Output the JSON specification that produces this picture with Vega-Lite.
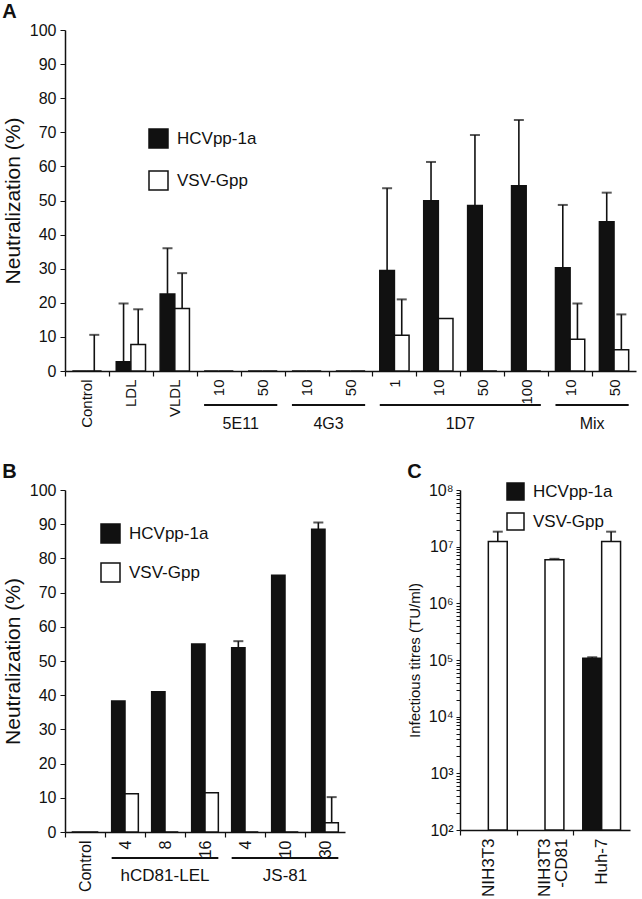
{
  "$schema": "https://vega.github.io/schema/vega-lite/v6.json",
  "background": "white",
  "padding": 2,
  "config": {
    "font": "Liberation Sans",
    "view": {"stroke": null},
    "axis": {"grid": false, "domainColor": "#111", "domainWidth": 1.5, "tickColor": "#111", "labelColor": "#111", "titleColor": "#111", "titleFontWeight": "normal"}
  },
  "datasets": {
    "a": [
      {"cat": "Control", "virus": "HCVpp-1a", "slot": "Control#H", "value": 0, "err": null},
      {"cat": "Control", "virus": "VSV-Gpp", "slot": "Control#V", "value": 0, "err": 10.6},
      {"cat": "LDL", "virus": "HCVpp-1a", "slot": "LDL#H", "value": 2.7, "err": 19.8},
      {"cat": "LDL", "virus": "VSV-Gpp", "slot": "LDL#V", "value": 7.8, "err": 18.1},
      {"cat": "VLDL", "virus": "HCVpp-1a", "slot": "VLDL#H", "value": 22.6, "err": 36},
      {"cat": "VLDL", "virus": "VSV-Gpp", "slot": "VLDL#V", "value": 18.3, "err": 28.7},
      {"cat": "5E11|10", "virus": "HCVpp-1a", "slot": "5E11|10#H", "value": 0, "err": null},
      {"cat": "5E11|10", "virus": "VSV-Gpp", "slot": "5E11|10#V", "value": 0, "err": null},
      {"cat": "5E11|50", "virus": "HCVpp-1a", "slot": "5E11|50#H", "value": 0, "err": null},
      {"cat": "5E11|50", "virus": "VSV-Gpp", "slot": "5E11|50#V", "value": 0, "err": null},
      {"cat": "4G3|10", "virus": "HCVpp-1a", "slot": "4G3|10#H", "value": 0, "err": null},
      {"cat": "4G3|10", "virus": "VSV-Gpp", "slot": "4G3|10#V", "value": 0, "err": null},
      {"cat": "4G3|50", "virus": "HCVpp-1a", "slot": "4G3|50#H", "value": 0, "err": null},
      {"cat": "4G3|50", "virus": "VSV-Gpp", "slot": "4G3|50#V", "value": 0, "err": null},
      {"cat": "1D7|1", "virus": "HCVpp-1a", "slot": "1D7|1#H", "value": 29.5, "err": 53.6},
      {"cat": "1D7|1", "virus": "VSV-Gpp", "slot": "1D7|1#V", "value": 10.5, "err": 21},
      {"cat": "1D7|10", "virus": "HCVpp-1a", "slot": "1D7|10#H", "value": 49.9, "err": 61.3},
      {"cat": "1D7|10", "virus": "VSV-Gpp", "slot": "1D7|10#V", "value": 15.4, "err": null},
      {"cat": "1D7|50", "virus": "HCVpp-1a", "slot": "1D7|50#H", "value": 48.5, "err": 69.2},
      {"cat": "1D7|50", "virus": "VSV-Gpp", "slot": "1D7|50#V", "value": 0, "err": null},
      {"cat": "1D7|100", "virus": "HCVpp-1a", "slot": "1D7|100#H", "value": 54.3, "err": 73.6},
      {"cat": "1D7|100", "virus": "VSV-Gpp", "slot": "1D7|100#V", "value": 0, "err": null},
      {"cat": "Mix|10", "virus": "HCVpp-1a", "slot": "Mix|10#H", "value": 30.3, "err": 48.7},
      {"cat": "Mix|10", "virus": "VSV-Gpp", "slot": "Mix|10#V", "value": 9.3, "err": 19.8},
      {"cat": "Mix|50", "virus": "HCVpp-1a", "slot": "Mix|50#H", "value": 43.8, "err": 52.3},
      {"cat": "Mix|50", "virus": "VSV-Gpp", "slot": "Mix|50#V", "value": 6.2, "err": 16.6}
    ],
    "aGroups": [
      {"grp": "5E11", "first": "5E11|10#H", "last": "5E11|50#V", "mid": "5E11|10#G"},
      {"grp": "4G3", "first": "4G3|10#H", "last": "4G3|50#V", "mid": "4G3|10#G"},
      {"grp": "1D7", "first": "1D7|1#H", "last": "1D7|100#V", "mid": "1D7|10#G"},
      {"grp": "Mix", "first": "Mix|10#H", "last": "Mix|50#V", "mid": "Mix|10#G"}
    ],
    "b": [
      {"cat": "Control", "virus": "HCVpp-1a", "slot": "Control#H", "value": 0, "err": null},
      {"cat": "Control", "virus": "VSV-Gpp", "slot": "Control#V", "value": 0, "err": null},
      {"cat": "hCD81-LEL|4", "virus": "HCVpp-1a", "slot": "hCD81-LEL|4#H", "value": 38.3, "err": null},
      {"cat": "hCD81-LEL|4", "virus": "VSV-Gpp", "slot": "hCD81-LEL|4#V", "value": 11.2, "err": null},
      {"cat": "hCD81-LEL|8", "virus": "HCVpp-1a", "slot": "hCD81-LEL|8#H", "value": 41.0, "err": null},
      {"cat": "hCD81-LEL|8", "virus": "VSV-Gpp", "slot": "hCD81-LEL|8#V", "value": 0, "err": null},
      {"cat": "hCD81-LEL|16", "virus": "HCVpp-1a", "slot": "hCD81-LEL|16#H", "value": 55.0, "err": null},
      {"cat": "hCD81-LEL|16", "virus": "VSV-Gpp", "slot": "hCD81-LEL|16#V", "value": 11.5, "err": null},
      {"cat": "JS-81|4", "virus": "HCVpp-1a", "slot": "JS-81|4#H", "value": 53.9, "err": 55.8},
      {"cat": "JS-81|4", "virus": "VSV-Gpp", "slot": "JS-81|4#V", "value": 0, "err": null},
      {"cat": "JS-81|10", "virus": "HCVpp-1a", "slot": "JS-81|10#H", "value": 75.1, "err": null},
      {"cat": "JS-81|10", "virus": "VSV-Gpp", "slot": "JS-81|10#V", "value": 0, "err": null},
      {"cat": "JS-81|30", "virus": "HCVpp-1a", "slot": "JS-81|30#H", "value": 88.5, "err": 90.5},
      {"cat": "JS-81|30", "virus": "VSV-Gpp", "slot": "JS-81|30#V", "value": 2.7, "err": 10.2}
    ],
    "bGroups": [
      {"grp": "hCD81-LEL", "first": "hCD81-LEL|4#H", "last": "hCD81-LEL|16#V", "mid": "hCD81-LEL|8#H"},
      {"grp": "JS-81", "first": "JS-81|4#H", "last": "JS-81|30#V", "mid": "JS-81|10#H"}
    ],
    "c": [
      {"cat": "NIH3T3", "virus": "VSV-Gpp", "slot": "NIH3T3#V", "value": 12300000, "err": 18400000},
      {"cat": "NIH3T3-CD81", "virus": "VSV-Gpp", "slot": "NIH3T3-CD81#V", "value": 5900000, "err": 6100000},
      {"cat": "Huh-7", "virus": "HCVpp-1a", "slot": "Huh-7#H", "value": 107000, "err": 112000},
      {"cat": "Huh-7", "virus": "VSV-Gpp", "slot": "Huh-7#V", "value": 12300000, "err": 18400000}
    ]
  },
  "spacing": 30,
  "resolve": {"scale": {"color": "independent"}, "legend": {"color": "independent"}},
  "vconcat": [
    {
      "title": {"text": "A", "anchor": "start", "fontSize": 20, "fontWeight": "bold", "color": "#111", "offset": 0},
      "width": 571,
      "height": 341,
      "layer": [
        {
          "data": {"name": "a"},
          "mark": {"type": "bar", "stroke": "#111", "strokeWidth": 1.5},
          "encoding": {
            "x": {"field": "slot", "type": "nominal",
              "scale": {"domain": ["Control#H","Control#V","Control#G","LDL#H","LDL#V","LDL#G","VLDL#H","VLDL#V","VLDL#G","5E11|10#H","5E11|10#V","5E11|10#G","5E11|50#H","5E11|50#V","5E11|50#G","4G3|10#H","4G3|10#V","4G3|10#G","4G3|50#H","4G3|50#V","4G3|50#G","1D7|1#H","1D7|1#V","1D7|1#G","1D7|10#H","1D7|10#V","1D7|10#G","1D7|50#H","1D7|50#V","1D7|50#G","1D7|100#H","1D7|100#V","1D7|100#G","Mix|10#H","Mix|10#V","Mix|10#G","Mix|50#H","Mix|50#V"], "paddingInner": 0, "paddingOuter": 0.5},
              "axis": {"title": null, "values": ["Control#H","LDL#H","VLDL#H","5E11|10#H","5E11|50#H","4G3|10#H","4G3|50#H","1D7|1#H","1D7|10#H","1D7|50#H","1D7|100#H","Mix|10#H","Mix|50#H"],
                "labelAngle": -90, "tickSize": 5, "tickWidth": 1.2, "tickOffset": -14.64, "labelOffset": 21.96, "labelPadding": 3, "labelFontSize": 15,
                "labelExpr": "indexof(datum.value, '|') >= 0 ? split(split(datum.value, '#')[0], '|')[1] : split(datum.value, '#')[0]"}},
            "y": {"field": "value", "type": "quantitative", "stack": null, "scale": {"domain": [0, 100]},
              "axis": {"title": "Neutralization (%)", "titleFontSize": 21, "titlePadding": 6, "labelFontSize": 16, "tickSize": 5, "labelPadding": 4}},
            "color": {"field": "virus", "type": "nominal", "scale": {"domain": ["HCVpp-1a","VSV-Gpp"], "range": ["#111111","#ffffff"]},
              "legend": {"orient": "none", "title": null, "legendX": 83, "legendY": 98, "symbolType": "square", "symbolSize": 361, "symbolStrokeColor": "#111", "symbolStrokeWidth": 1.5, "labelFontSize": 17, "labelColor": "#111", "rowPadding": 17, "labelOffset": 8, "padding": 0}}
          }
        },
        {
          "data": {"name": "a"},
          "transform": [{"filter": "isValid(datum.err)"}],
          "mark": {"type": "rule", "strokeWidth": 1.6, "color": "#111"},
          "encoding": {
            "x": {"field": "slot", "type": "nominal"},
            "y": {"field": "value", "type": "quantitative"},
            "y2": {"field": "err"}
          }
        },
        {
          "data": {"name": "a"},
          "transform": [{"filter": "isValid(datum.err)"}],
          "mark": {"type": "tick", "thickness": 2, "size": 10, "color": "#111"},
          "encoding": {
            "x": {"field": "slot", "type": "nominal"},
            "y": {"field": "err", "type": "quantitative"}
          }
        },
        {
          "data": {"name": "aGroups"},
          "mark": {"type": "rule", "strokeWidth": 2, "color": "#111"},
          "encoding": {
            "x": {"field": "first", "type": "nominal", "bandPosition": 0},
            "x2": {"field": "last", "bandPosition": 1},
            "y": {"datum": -10}
          }
        },
        {
          "data": {"name": "aGroups"},
          "mark": {"type": "text", "fontSize": 16, "baseline": "middle", "color": "#111"},
          "encoding": {
            "x": {"field": "mid", "type": "nominal"},
            "y": {"datum": -15.5},
            "text": {"field": "grp"}
          }
        }
      ]
    },
    {
      "spacing": 62,
      "resolve": {"scale": {"color": "independent"}, "legend": {"color": "independent"}},
      "hconcat": [
        {
          "title": {"text": "B", "anchor": "start", "fontSize": 20, "fontWeight": "bold", "color": "#111", "offset": 0},
          "width": 280,
          "height": 342,
          "layer": [
            {
              "data": {"name": "b"},
              "mark": {"type": "bar", "stroke": "#111", "strokeWidth": 1.5},
              "encoding": {
                "x": {"field": "slot", "type": "nominal",
                  "scale": {"domain": ["Control#H","Control#V","Control#G","hCD81-LEL|4#H","hCD81-LEL|4#V","hCD81-LEL|4#G","hCD81-LEL|8#H","hCD81-LEL|8#V","hCD81-LEL|8#G","hCD81-LEL|16#H","hCD81-LEL|16#V","hCD81-LEL|16#G","JS-81|4#H","JS-81|4#V","JS-81|4#G","JS-81|10#H","JS-81|10#V","JS-81|10#G","JS-81|30#H","JS-81|30#V"], "paddingInner": 0, "paddingOuter": 0.5},
                  "axis": {"title": null, "values": ["Control#H","hCD81-LEL|4#H","hCD81-LEL|8#H","hCD81-LEL|16#H","JS-81|4#H","JS-81|10#H","JS-81|30#H"],
                    "labelAngle": -90, "tickSize": 5, "tickWidth": 1.2, "tickOffset": -13.33, "labelOffset": 20, "labelPadding": 3, "labelFontSize": 16,
                    "labelExpr": "indexof(datum.value, '|') >= 0 ? split(split(datum.value, '#')[0], '|')[1] : split(datum.value, '#')[0]"}},
                "y": {"field": "value", "type": "quantitative", "stack": null, "scale": {"domain": [0, 100]},
                  "axis": {"title": "Neutralization (%)", "titleFontSize": 21, "titlePadding": 6, "labelFontSize": 16, "tickSize": 5, "labelPadding": 4}},
                "color": {"field": "virus", "type": "nominal", "scale": {"domain": ["HCVpp-1a","VSV-Gpp"], "range": ["#111111","#ffffff"]},
                  "legend": {"orient": "none", "title": null, "legendX": 35, "legendY": 33, "symbolType": "square", "symbolSize": 361, "symbolStrokeColor": "#111", "symbolStrokeWidth": 1.5, "labelFontSize": 17, "labelColor": "#111", "rowPadding": 14, "labelOffset": 8, "padding": 0}}
              }
            },
            {
              "data": {"name": "b"},
              "transform": [{"filter": "isValid(datum.err)"}],
              "mark": {"type": "rule", "strokeWidth": 1.6, "color": "#111"},
              "encoding": {
                "x": {"field": "slot", "type": "nominal"},
                "y": {"field": "value", "type": "quantitative"},
                "y2": {"field": "err"}
              }
            },
            {
              "data": {"name": "b"},
              "transform": [{"filter": "isValid(datum.err)"}],
              "mark": {"type": "tick", "thickness": 2, "size": 10, "color": "#111"},
              "encoding": {
                "x": {"field": "slot", "type": "nominal"},
                "y": {"field": "err", "type": "quantitative"}
              }
            },
            {
              "data": {"name": "bGroups"},
              "mark": {"type": "rule", "strokeWidth": 2, "color": "#111"},
              "encoding": {
                "x": {"field": "first", "type": "nominal", "bandPosition": 0},
                "x2": {"field": "last", "bandPosition": 1},
                "y": {"datum": -7.6}
              }
            },
            {
              "data": {"name": "bGroups"},
              "mark": {"type": "text", "fontSize": 17, "baseline": "middle", "color": "#111"},
              "encoding": {
                "x": {"field": "mid", "type": "nominal", "bandPosition": 1},
                "y": {"datum": -13},
                "text": {"field": "grp"}
              }
            }
          ]
        },
        {
          "title": {"text": "C", "anchor": "start", "fontSize": 20, "fontWeight": "bold", "color": "#111", "offset": 0},
          "width": 170,
          "height": 340,
          "layer": [
            {
              "data": {"name": "c"},
              "mark": {"type": "bar", "stroke": "#111", "strokeWidth": 1.5},
              "encoding": {
                "x": {"field": "slot", "type": "nominal",
                  "scale": {"domain": ["NIH3T3#H","NIH3T3#V","NIH3T3#G","NIH3T3-CD81#H","NIH3T3-CD81#V","NIH3T3-CD81#G","Huh-7#H","Huh-7#V"], "paddingInner": 0, "paddingOuter": 0.5},
                  "axis": {"title": null, "values": ["NIH3T3#H","NIH3T3-CD81#H","Huh-7#H"],
                    "labelAngle": -90, "tickSize": 5, "tickWidth": 1.2, "tickOffset": -18.89, "labelOffset": 28.33, "labelPadding": 3, "labelFontSize": 17, "labelLineHeight": 17,
                    "labelExpr": "split(datum.value, '#')[0] == 'NIH3T3-CD81' ? ['NIH3T3', '-CD81'] : split(datum.value, '#')[0]"}},
                "y": {"field": "value", "type": "quantitative", "stack": null, "scale": {"type": "log", "domain": [100, 100000000]},
                  "axis": {"title": "Infectious titres (TU/ml)", "titleFontSize": 15, "titlePadding": 6, "labelFontSize": 16, "labelPadding": 3, "tickSize": 4, "labelOverlap": false,
                    "values": [100,200,300,400,500,600,700,800,900,1000,2000,3000,4000,5000,6000,7000,8000,9000,10000,20000,30000,40000,50000,60000,70000,80000,90000,100000,200000,300000,400000,500000,600000,700000,800000,900000,1000000,2000000,3000000,4000000,5000000,6000000,7000000,8000000,9000000,10000000,20000000,30000000,40000000,50000000,60000000,70000000,80000000,90000000,100000000],
                    "labelExpr": "abs(log(datum.value)/LN10 - round(log(datum.value)/LN10)) < 0.001 ? '10' + ['⁰','¹','²','³','⁴','⁵','⁶','⁷','⁸'][round(log(datum.value)/LN10)] : ''"}},
                "color": {"field": "virus", "type": "nominal", "scale": {"domain": ["HCVpp-1a","VSV-Gpp"], "range": ["#111111","#ffffff"]},
                  "legend": {"orient": "none", "title": null, "legendX": 46, "legendY": -8, "symbolType": "square", "symbolSize": 289, "symbolStrokeColor": "#111", "symbolStrokeWidth": 1.5, "labelFontSize": 17, "labelColor": "#111", "rowPadding": 7, "labelOffset": 8, "padding": 0}}
              }
            },
            {
              "data": {"name": "c"},
              "mark": {"type": "rule", "strokeWidth": 1.6, "color": "#111"},
              "encoding": {
                "x": {"field": "slot", "type": "nominal"},
                "y": {"field": "value", "type": "quantitative"},
                "y2": {"field": "err"}
              }
            },
            {
              "data": {"name": "c"},
              "mark": {"type": "tick", "thickness": 2, "size": 10, "color": "#111"},
              "encoding": {
                "x": {"field": "slot", "type": "nominal"},
                "y": {"field": "err", "type": "quantitative"}
              }
            }
          ]
        }
      ]
    }
  ]
}
